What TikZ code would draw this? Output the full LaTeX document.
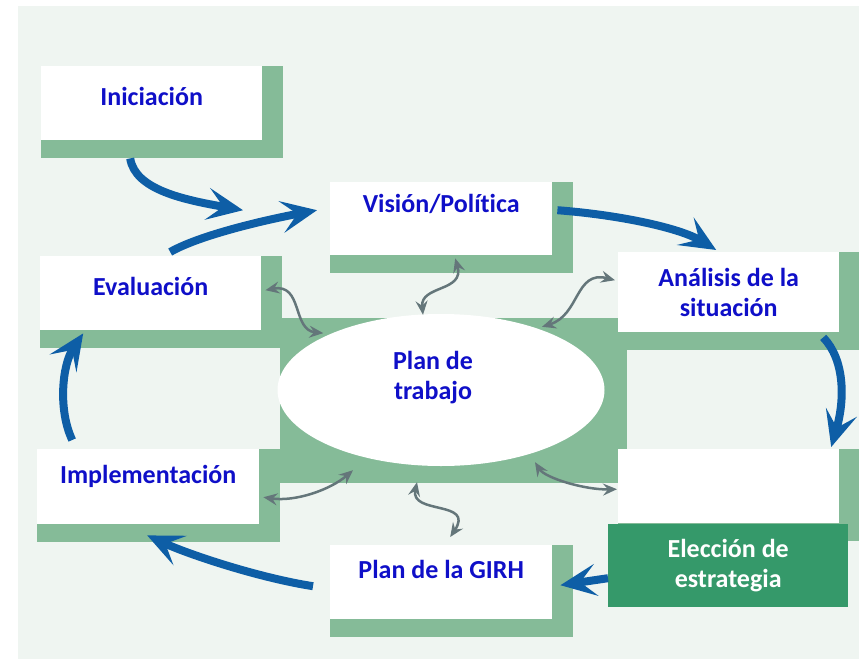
\documentclass[tikz,border=0pt]{standalone}
\usepackage{fontspec}
\setmainfont{Carlito}[Ligatures=NoCommon]
\usetikzlibrary{shapes.geometric, arrows.meta}
\definecolor{bgpale}{RGB}{239,245,241}
\definecolor{shgreen}{RGB}{133,187,152}
\definecolor{stgdark}{RGB}{53,153,106}
\definecolor{txtblue}{RGB}{15,15,200}
\definecolor{flowblue}{RGB}{14,94,166}
\definecolor{linkgray}{RGB}{100,118,122}
\pgfdeclarelayer{background}
\pgfsetlayers{background,main}
\tikzstyle{lbl} = [text=txtblue, font=\bfseries\fontsize{26}{30}\selectfont, align=center]
\tikzstyle{stg} = [lbl, fill=white, anchor=north west, minimum width=221pt, minimum height=74pt, inner sep=0pt]
\tikzstyle{stgd} = [stg, fill=stgdark, text=white, minimum width=240pt, minimum height=83pt]
\tikzstyle{flow} = [line width=8pt, draw=flowblue, -{Stealth[length=36pt, width=32pt, inset=16pt]}]
\tikzstyle{link} = [line width=2.5pt, draw=linkgray, {Stealth[length=14pt, width=12pt, inset=5pt]}-{Stealth[length=14pt, width=12pt, inset=5pt]}]

\begin{document}
\begin{tikzpicture}[x=1pt, y=-1pt]
		\useasboundingbox (0,0) rectangle (859,661);
		\node (ini) [stg, text height=18pt, text depth=13pt] at (41,66) {Iniciación};
		\node (vis) [stg, text height=18pt, text depth=31pt, minimum width=222pt, minimum height=73pt] at (330,182) {Visión/Política};
		\node (eva) [stg, text height=18pt, text depth=14pt] at (40,256) {Evaluación};
		\node (ana) [stg, minimum height=80pt] at (618,252) {Análisis de la\\situación};
		\node (plan) [ellipse, fill=white, minimum width=327pt, minimum height=152pt] at (441,390) {};
		\node (plantxt) [lbl] at ([shift={(-8,-12)}]plan.center) {Plan de\\trabajo};
		\node (sel) [stg] at (618,449) {};
		\node (imp) [stg, text height=18pt, text depth=25pt, minimum width=222pt, minimum height=75pt] at (37,449) {Implementación};
		\node (girh) [stg, text height=18pt, text depth=26pt, minimum width=222pt] at (330,545) {Plan de la GIRH};
		\node (elec) [stgd] at (608,524) {Elección de\\estrategia};
		\begin{pgfonlayer}{background}
			\fill [bgpale] (18,6) rectangle (859,659);
			\fill [shgreen] (280,318) rectangle (627,483);
			\foreach \n in {ini,vis,eva,ana,sel,imp,girh}
				\fill [shgreen] (\n.north west) rectangle ([shift={(21,18)}]\n.south east);
		\end{pgfonlayer}
		\draw [flow] ([shift={(-21.5,18)}]ini.south) .. controls (135,190) and (185,200) .. ([shift={(-87,-8.5)}]vis.west);
		\draw [flow] ([shift={(19.5,-4)}]eva.north) .. controls (200,235) and (265,220) .. ([shift={(-13,-8.5)}]vis.west);
		\draw [flow] ([shift={(5,-8.5)}]vis.east) .. controls (620,215) and (680,228) .. ([shift={(-12.5,-2)}]ana.north);
		\draw [flow] ([shift={(94.5,5)}]ana.south) .. controls (845,360) and (845,400) .. ([shift={(102.5,-2)}]sel.north);
		\draw [flow] ([shift={(0,12.5)}]elec.west) -- ([shift={(8,3)}]girh.east);
		\draw [flow] ([shift={(-17,4)}]girh.west) .. controls (260,578) and (190,555) .. ([shift={(-1,11)}]imp.south);
		\draw [flow] ([shift={(-76,-9)}]imp.north) .. controls (58,410) and (62,365) .. ([shift={(-67.5,3)}]eva.south);
		\draw [link] ([shift={(4,-3)}]eva.east) .. controls (303,283) and (292,330) .. ([shift={(-2,-3)}]plan.north west);
		\draw [link] ([shift={(-18,1)}]plan.north) .. controls (420,285) and (465,292) .. ([shift={(14,3)}]vis.south);
		\draw [link] ([shift={(-3,-12)}]ana.west) .. controls (575,270) and (580,315) .. ([shift={(101,13)}]plan.north);
		\draw [link] ([shift={(4,10.5)}]imp.east) .. controls (295,502) and (330,490) .. ([shift={(-88,4)}]plan.south);
		\draw [link] ([shift={(-24,16)}]plan.south) .. controls (410,515) and (475,500) .. ([shift={(9,-8)}]girh.north);
		\draw [link] ([shift={(94,-4)}]plan.south) .. controls (545,478) and (585,490) .. ([shift={(-1,3)}]sel.west);
\end{tikzpicture}
\end{document}
